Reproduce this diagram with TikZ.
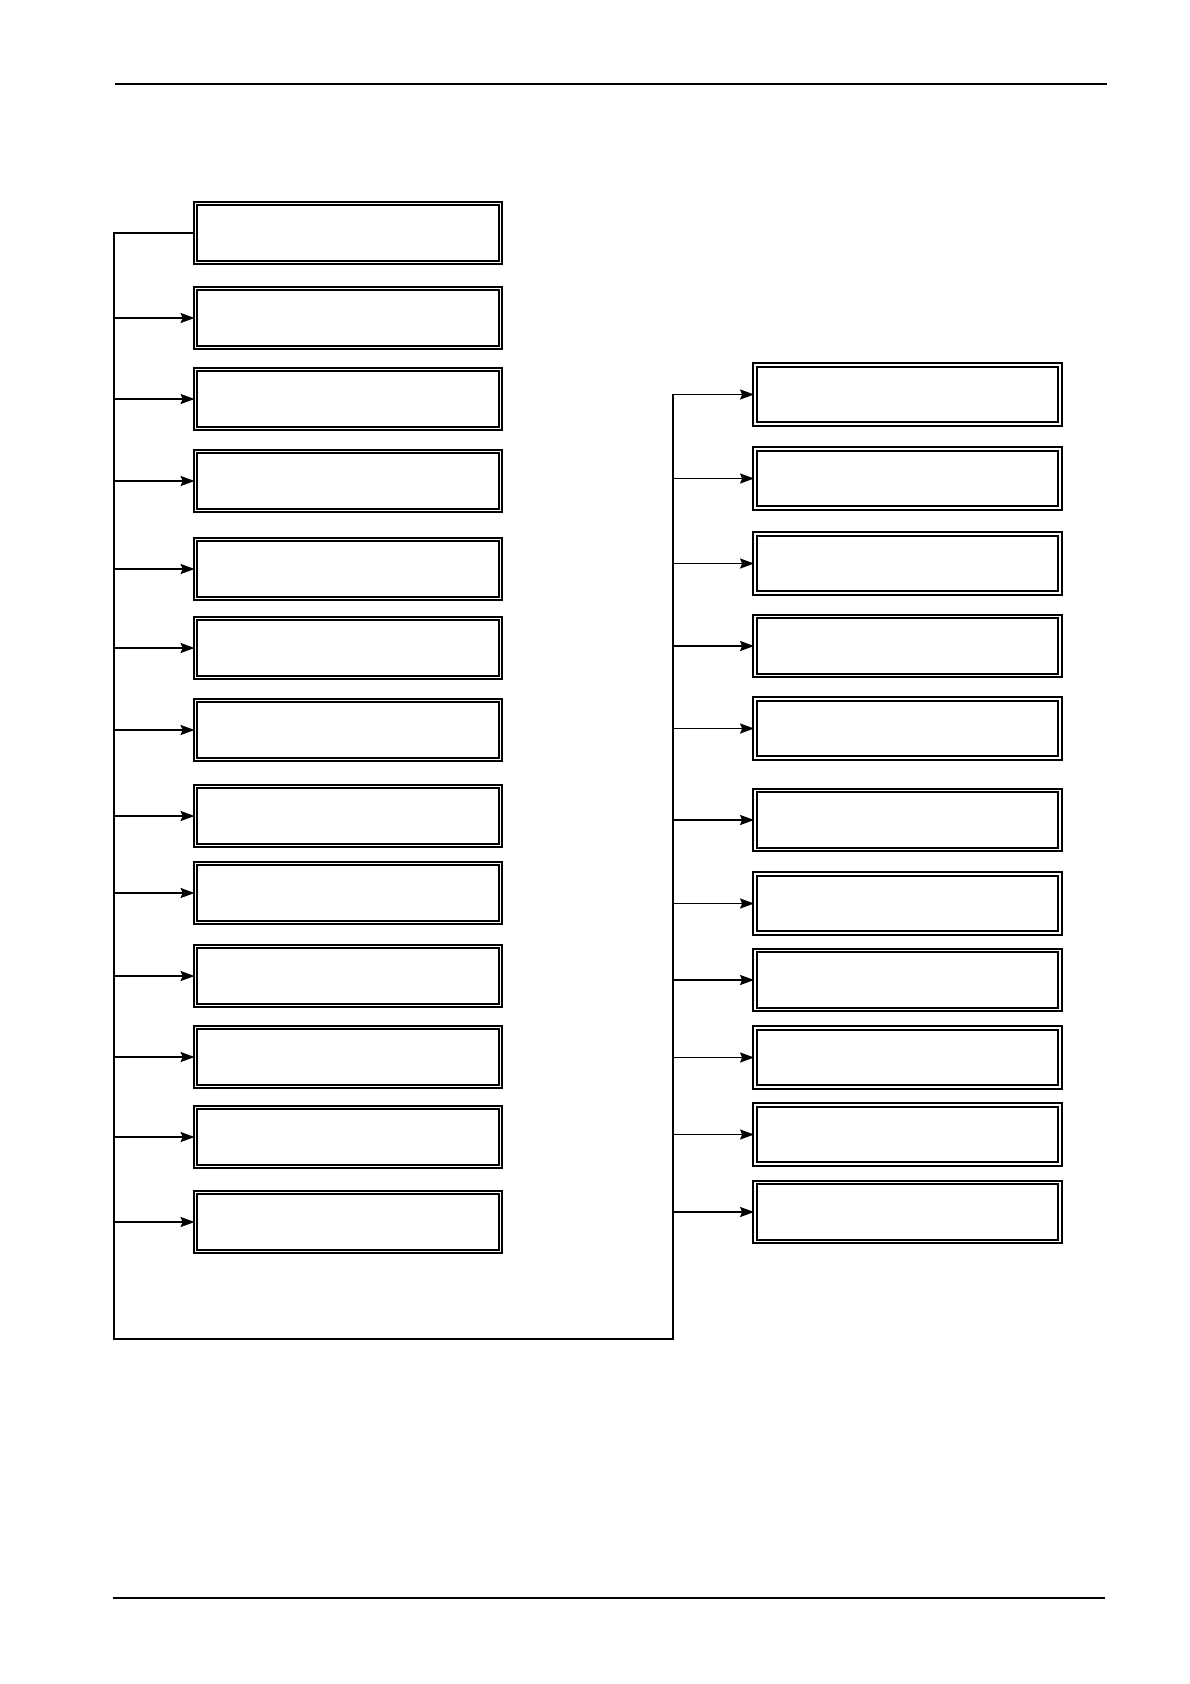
\documentclass[tikz,border=0pt]{standalone}
\usepackage{tikz}
\usetikzlibrary{arrows.meta}

\begin{document}
\begin{tikzpicture}[x=0.5bp, y=-0.5bp,
    box/.style={draw, double, line width=0.9pt, double distance=0.8pt,
      minimum width=152.5bp, minimum height=29.5bp, inner sep=0pt},
    link/.style={line width=0.9pt, -{Stealth[length=7bp, width=5bp, inset=1bp]}}]
    \useasboundingbox (0,0) rectangle (1190,1684);
    \coordinate (HeadLeft)  at (115,84);
    \coordinate (HeadRight) at (1107,84);
    \coordinate (FootLeft)  at (113,1598);
    \coordinate (FootRight) at (1105,1598);
    \draw [line width=1.2bp] (HeadLeft) -- (HeadRight);% Header rule
    \draw [line width=1.2bp] (FootLeft) -- (FootRight);% Footer rule

    \foreach \n/\y in {1/233,2/318,3/399,4/481,5/569,6/648,7/730,
                       8/816,9/893,10/976,11/1057,12/1137,13/1222}{% Left column
      \node[box] (L\n) at (348,\y) {};
    }
    \foreach \n/\y in {1/394.5,2/478.5,3/563.5,4/646,5/728.5,6/820,
                       7/903.5,8/980,9/1057.5,10/1134.5,11/1212}{% Right column
      \node[box] (R\n) at (907.5,\y) {};
    }

    \coordinate (TrunkTop)  at (114,233);
    \coordinate (TrunkBot)  at (114,1339);
    \coordinate (RTrunkBot) at (673,1339);
    \coordinate (RTrunkTop) at (673,394.5);
    \draw [link] (L1.west) -- (TrunkTop) -- (TrunkBot)
                 -- (RTrunkBot) -- (RTrunkTop) -- (R1.west);% Main loop
    \foreach \n in {2,...,13}{% Branches to the left boxes
      \draw [link] (TrunkTop |- L\n.west) -- (L\n.west);
    }
    \foreach \n in {2,...,11}{% Branches to the right boxes
      \draw [link] (RTrunkTop |- R\n.west) -- (R\n.west);
    }
\end{tikzpicture}
\end{document}
